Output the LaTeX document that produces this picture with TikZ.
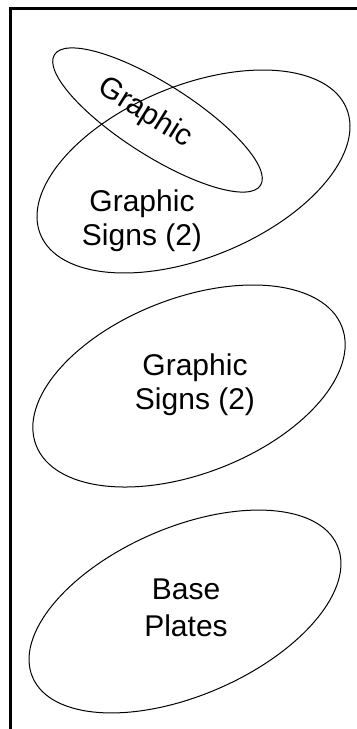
\documentclass[tikz,border=0pt]{standalone}
\usepackage{fontspec}
\setmainfont{Liberation Sans}
\tikzstyle{frame}=[line width=1.5pt, line join=miter]
\tikzstyle{venn}=[draw, line width=0.5pt]
\tikzstyle{txt}=[align=center, inner sep=0pt, font=\fontsize{15}{17}\selectfont]
\begin{document}
\begin{tikzpicture}[x=0.5pt, y=0.5pt]
    \useasboundingbox (0,0) rectangle (357,-729);

    % frame (top and left only)
    \draw[frame] (357,-8) -- (10,-8) -- (10,-729);

    % sets
    \draw[venn, rotate around={22.4:(193.5,-171.5)}] (193.5,-171.5) ellipse [x radius=165.5, y radius=86];
    \draw[venn, rotate around={-32.4:(157.5,-120)}] (157.5,-120) ellipse [x radius=122, y radius=36];
    \draw[venn, rotate around={21.2:(189,-386)}] (189,-386) ellipse [x radius=164, y radius=87.7];
    \draw[venn, rotate around={23.4:(185,-611.5)}] (185,-611.5) ellipse [x radius=166, y radius=84];

    \node[txt, rotate=-32] (graphic) at (145,-113) {Graphic};
    \node[txt] (signsA) at (142,-221) {Graphic\\Signs (2)};
    \node[txt] (signsB) at (195,-384.5) {Graphic\\Signs (2)};
    \node[txt] (plates) at (186,-607.5) {Base\\[1.5pt]Plates};

\end{tikzpicture}
\end{document}
